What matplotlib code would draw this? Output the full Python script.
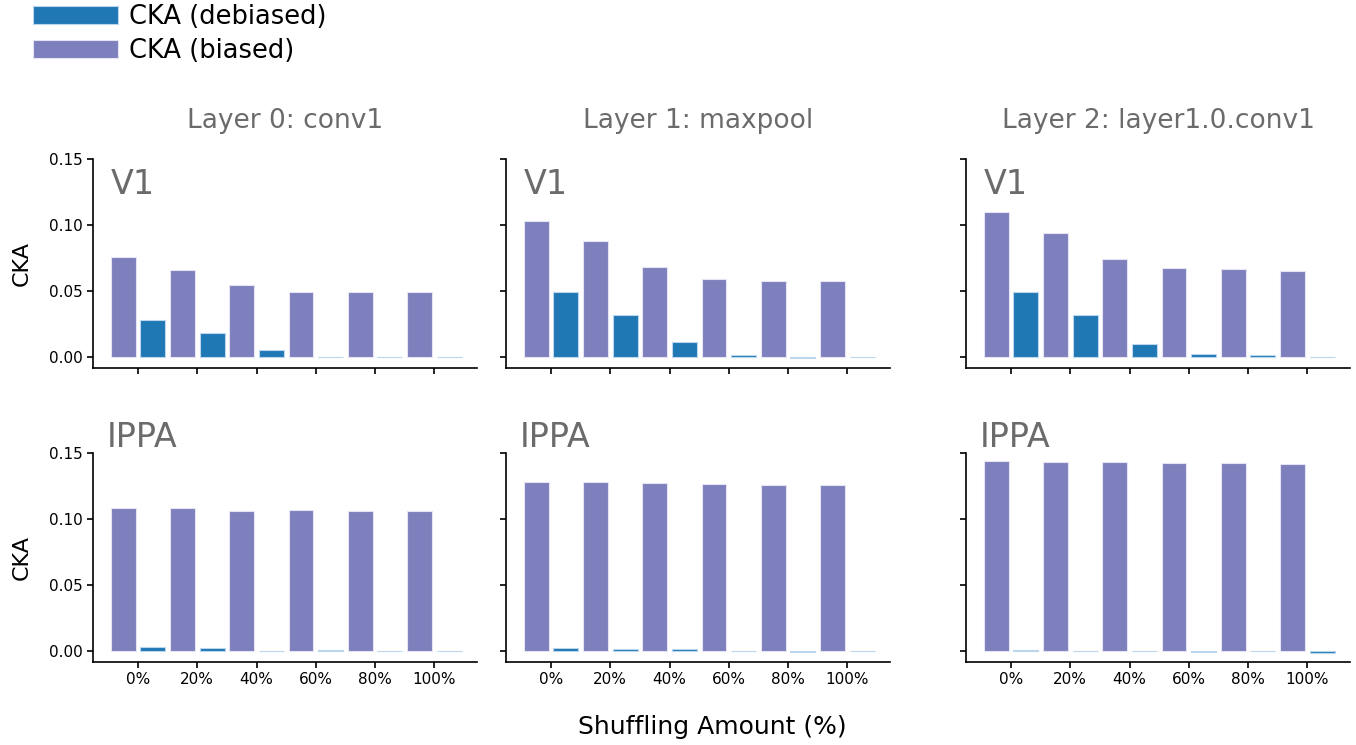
import numpy as np
import matplotlib
matplotlib.use("Agg")
import matplotlib.pyplot as plt
from matplotlib.ticker import FormatStrFormatter

# ---- data ----
shuffle_labels = ["0%", "20%", "40%", "60%", "80%", "100%"]
layer_titles = ["Layer 0: conv1", "Layer 1: maxpool", "Layer 2: layer1.0.conv1"]
areas = ["V1", "IPPA"]

# V1, biased / debiased, one list per layer
v1_biased = [
    [0.0759, 0.0662, 0.0543, 0.0490, 0.0495, 0.0495],
    [0.1033, 0.0876, 0.0683, 0.0589, 0.0574, 0.0576],
    [0.1099, 0.0937, 0.0744, 0.0678, 0.0668, 0.0655],
]
v1_debiased = [
    [0.0284, 0.0183, 0.0056, -0.0003, 0.0004, 0.0004],
    [0.0490, 0.0322, 0.0112, 0.0013, -0.0005, 0.0001],
    [0.0490, 0.0315, 0.0099, 0.0025, 0.0013, 0.0001],
]

# IPPA
ippa_biased = [
    [0.1085, 0.1080, 0.1062, 0.1067, 0.1062, 0.1060],
    [0.1280, 0.1277, 0.1275, 0.1262, 0.1254, 0.1257],
    [0.1437, 0.1432, 0.1429, 0.1421, 0.1424, 0.1416],
]
ippa_debiased = [
    [0.0030, 0.0025, -0.0002, 0.0010, 0.0001, -0.0003],
    [0.0020, 0.0018, 0.0013, 0.0003, -0.0005, -0.0002],
    [0.0010, 0.0004, 0.0004, -0.0004, -0.0001, -0.0012],
]

biased = [v1_biased, ippa_biased]
debiased = [v1_debiased, ippa_debiased]

c_biased = "#7e7fbd"
c_debiased = "#1f77b4"
gray = "#6b6b6b"

plt.rcParams["font.family"] = ["DejaVu Sans"]
plt.rcParams["axes.linewidth"] = 1.2
plt.rcParams["xtick.major.width"] = 1.2
plt.rcParams["ytick.major.width"] = 1.2
plt.rcParams["xtick.major.size"] = 4
plt.rcParams["ytick.major.size"] = 4
plt.rcParams["xtick.labelsize"] = 11
plt.rcParams["ytick.labelsize"] = 11

W, H = 1356, 745
fig = plt.figure(figsize=(W / 100, H / 100), dpi=100)

col_left = [93, 506, 966]
ax_w = 384
row_bottom = [368, 662]
ax_h = 209

x = np.arange(len(shuffle_labels))
bw = 0.42

for r in range(2):
    for c in range(3):
        ax = fig.add_axes([col_left[c] / W, 1 - row_bottom[r] / H, ax_w / W, ax_h / H])
        b1 = ax.bar(x - 0.25, biased[r][c], width=bw, color=c_biased,
                    edgecolor="#e4e4f2", linewidth=0.8, label="CKA (biased)")
        b2 = ax.bar(x + 0.25, debiased[r][c], width=bw, color=c_debiased,
                    edgecolor="#bcd6ee", linewidth=0.8, label="CKA (debiased)")
        ax.set_xlim(-0.76, 5.72)
        ax.set_ylim(-0.0083, 0.15)
        ax.set_yticks([0.0, 0.05, 0.10, 0.15])
        ax.yaxis.set_major_formatter(FormatStrFormatter("%.2f"))
        ax.set_xticks(x)
        ax.spines["top"].set_visible(False)
        ax.spines["right"].set_visible(False)
        if r == 1:
            ax.set_xticklabels(shuffle_labels)
        else:
            ax.set_xticklabels([])
            ax.set_title(layer_titles[c], fontsize=19, color=gray, pad=22)
        if c == 0:
            ax.set_ylabel("CKA", fontsize=16, labelpad=12)
        else:
            ax.set_yticklabels([])
        if r == 0:
            ax.text(0.045, 0.833, areas[r], transform=ax.transAxes,
                    fontsize=24, color=gray, va="baseline")
        else:
            ax.text(0.035, 1.029, areas[r], transform=ax.transAxes,
                    fontsize=24, color=gray, va="baseline")

fig.legend(handles=[b2, b1], labels=["CKA (debiased)", "CKA (biased)"],
           loc="upper left", bbox_to_anchor=(33 / W, 1 - 4 / H), frameon=False,
           fontsize=18.5, handlelength=3.3, handletextpad=0.45,
           borderpad=0.0, labelspacing=0.33, borderaxespad=0.0)

fig.text(712 / W, 1 - 727 / H, "Shuffling Amount (%)", fontsize=18,
         ha="center", va="center")

fig.savefig("out.png", dpi=100)
